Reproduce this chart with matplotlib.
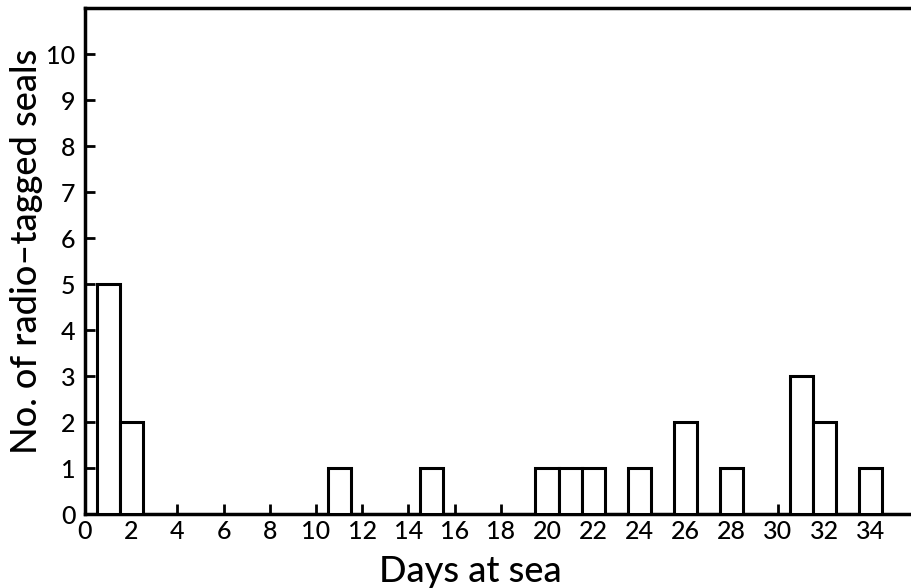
import matplotlib
matplotlib.use("Agg")
import matplotlib.pyplot as plt

plt.rcParams['font.family'] = ['Lato', 'DejaVu Sans']

# Days at sea for each trip, and number of tagged seals per day
days = [1, 2, 11, 15, 20, 21, 22, 24, 26, 28, 31, 32, 34]
seal_counts = [5, 2, 1, 1, 1, 1, 1, 1, 2, 1, 3, 2, 1]

x_ticks = list(range(0, 35, 2))
y_ticks = list(range(0, 11))

W, H = 912, 588
fig = plt.figure(figsize=(W / 100, H / 100), dpi=100)
ax = fig.add_axes([85 / W, 1 - 514 / H, 1 - 85 / W, (514 - 8) / H])

ax.bar(days, seal_counts, width=1.0, align='center',
       facecolor='white', edgecolor='black', linewidth=2.2, zorder=3)

ax.set_xlim(0, (W - 85) / 23.1)
ax.set_ylim(0, 11)

ax.set_xticks(x_ticks)
ax.set_yticks(y_ticks)
ax.tick_params(axis='both', direction='in', length=7, width=2,
               labelsize=18, colors='black')
ax.tick_params(axis='x', pad=4)
ax.tick_params(axis='y', pad=7)
for lbl in ax.get_xticklabels() + ax.get_yticklabels():
    lbl.set_fontweight('medium')

for side in ['left', 'bottom', 'top']:
    ax.spines[side].set_linewidth(2.5)
ax.spines['right'].set_visible(False)

fig.text(470 / W, 1 - 571 / H, 'Days at sea', fontsize=26,
         fontweight='medium', ha='center', va='center')
fig.text(27 / W, 1 - 251 / H, 'No. of radio\u2013tagged seals', fontsize=26,
         fontweight='medium', rotation=90, ha='center', va='center')

fig.savefig('out.png', dpi=100, facecolor='white')
